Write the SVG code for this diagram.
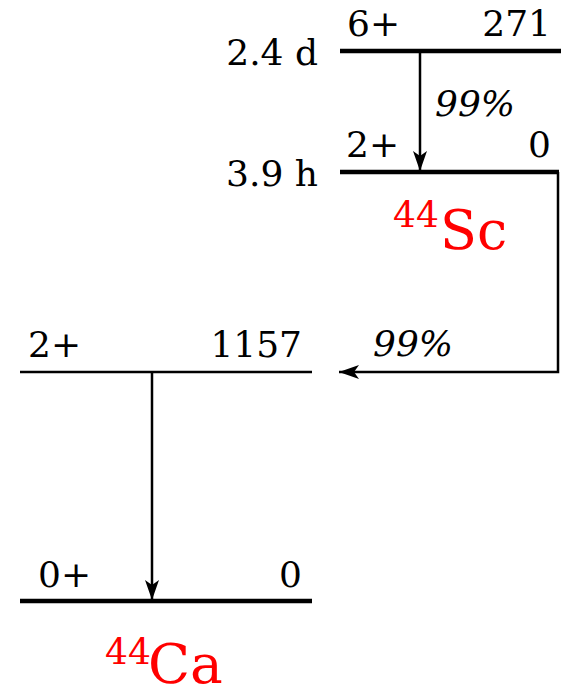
<svg xmlns="http://www.w3.org/2000/svg" width="561" height="690" viewBox="0 0 561 690">
<style>
text{font-family:"DejaVu Serif",serif;font-size:36px;fill:#000}
.r{text-anchor:end}
.i{font-style:italic}
.red{fill:#f00}
.thick{stroke:#000;stroke-width:4.5;fill:none}
.thin{stroke:#000;stroke-width:2.5;fill:none}
</style>
<defs>
<marker id="ah" markerWidth="22" markerHeight="14" refX="20" refY="7" orient="auto" markerUnits="userSpaceOnUse">
<path d="M0,0 L20,7 L0,14 L5,7 Z" fill="#000"/>
</marker>
</defs>
<g id="sc271">
<line class="thick" x1="340" y1="51" x2="561" y2="51"/>
<text x="347" y="36">6+</text>
<text class="r" x="551" y="36">271</text>
<text class="r" x="318" y="65">2.4 d</text>
</g>
<g id="sc0">
<line class="thick" x1="340" y1="172" x2="559" y2="172"/>
<text x="346" y="157">2+</text>
<text class="r" x="551" y="157">0</text>
<text class="r" x="318" y="186">3.9 h</text>
<text class="red" x="393" y="227" style="font-size:36px">44</text>
<text class="red" x="440" y="249" style="font-size:54px">Sc</text>
</g>
<g id="ca1157">
<line class="thin" x1="20" y1="372" x2="312" y2="372"/>
<text x="28" y="357">2+</text>
<text class="r" x="302" y="357">1157</text>
</g>
<g id="ca0">
<line class="thick" x1="20" y1="601" x2="312" y2="601"/>
<text x="38" y="587">0+</text>
<text class="r" x="302" y="587">0</text>
<text class="red" x="105" y="664" style="font-size:36px">44</text>
<text class="red" x="148" y="683" style="font-size:55px">Ca</text>
</g>
<g id="connectors">
<line class="thin" x1="420" y1="51" x2="420" y2="171" marker-end="url(#ah)"/>
<text class="i" x="435" y="116">99%</text>
<polyline class="thin" points="558,172 558,372 339,372" marker-end="url(#ah)"/>
<text class="i" x="373" y="356">99%</text>
<line class="thin" x1="152" y1="372" x2="152" y2="600" marker-end="url(#ah)"/>
</g>
</svg>
